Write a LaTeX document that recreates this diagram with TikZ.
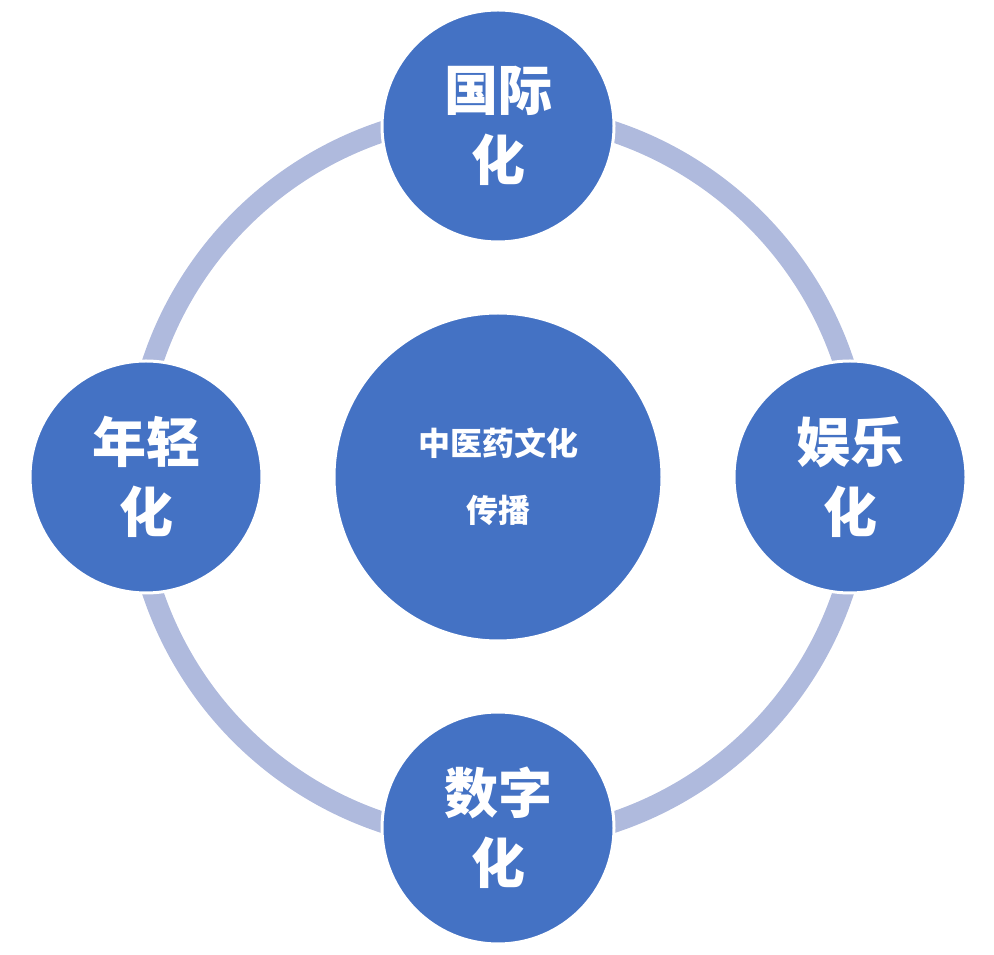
\documentclass[tikz,border=0pt]{standalone}
\usepackage{fontspec}
\newfontfamily\cjk{Noto Sans CJK SC}
\definecolor{ringblue}{HTML}{AFBADD}
\definecolor{discblue}{HTML}{4472C4}
\tikzset{
  ring/.style={draw=ringblue, line width=21pt},
  disc/.style={circle, draw=white, line width=3pt, fill=discblue, text=white, align=center, minimum size=232pt, inner sep=0pt, font=\cjk\bfseries\fontsize{54}{70}\selectfont},
  hub/.style={disc, minimum size=328pt, font=\cjk\bfseries\fontsize{32}{67}\selectfont}
}
\begin{document}
\begin{tikzpicture}[x=1pt,y=1pt]
\useasboundingbox (0,0) rectangle (994,954);
\draw[ring] (498,477) circle (364);

\node (hub) [hub] at (498,477) {中医药文化\\传播};
\node (top) [disc] at (498,828) {国际\\化};
\node (right) [disc] at (850,477) {娱乐\\化};
\node (bottom) [disc] at (498,126) {数字\\化};
\node (left) [disc] at (146,477) {年轻\\化};
\end{tikzpicture}
\end{document}
